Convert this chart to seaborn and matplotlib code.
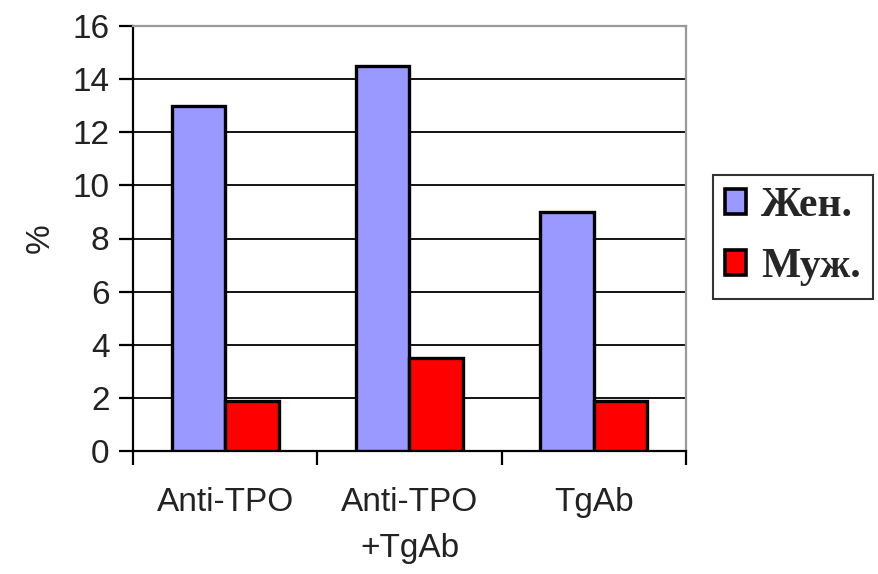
import matplotlib
matplotlib.use("Agg")
import matplotlib.pyplot as plt
from matplotlib.patches import Patch
from matplotlib.ticker import FixedLocator
import seaborn as sns
import pandas as pd

categories = ["Anti-TPO", "Anti-TPO\n+TgAb", "TgAb"]
women = [13.0, 14.5, 9.0]
men = [1.9, 3.5, 1.9]
series_names = ["Жен.", "Муж."]
y_ticks = [0, 2, 4, 6, 8, 10, 12, 14, 16]

df = pd.DataFrame({
    "cat": categories * 2,
    "val": women + men,
    "sex": [series_names[0]] * 3 + [series_names[1]] * 3,
})

sns.set_theme(style="white")
plt.rcParams["font.family"] = ["Liberation Sans", "DejaVu Sans"]

colors = {"Жен.": "#9999FF", "Муж.": "#FF0000"}

fig = plt.figure(figsize=(8.79, 5.74), dpi=100)
ax = fig.add_axes([133 / 879, 1 - 451 / 574, (686 - 133) / 879, (451 - 26) / 574])

sns.barplot(data=df, x="cat", y="val", hue="sex", order=categories,
            hue_order=series_names, palette=colors, width=0.58, gap=0,
            edgecolor="black", linewidth=2.4, saturation=1, ax=ax,
            legend=False, zorder=3)

ax.set_xlim(-0.5, 2.5)
ax.set_ylim(0, 16)
ax.set_yticks(y_ticks)
ax.yaxis.grid(True, color="black", linewidth=1.3, zorder=0)
ax.set_axisbelow(True)

for side in ["left", "bottom"]:
    ax.spines[side].set_color("black")
    ax.spines[side].set_linewidth(1.6)
for side in ["top", "right"]:
    ax.spines[side].set_visible(True)
    ax.spines[side].set_color("#999999")
    ax.spines[side].set_linewidth(1.6)

# category labels sit between boundary ticks
ax.set_xticks(range(len(categories)))
ax.set_xticklabels(categories, fontsize=24, color="#222222", linespacing=1.6)
ax.tick_params(axis="x", which="major", length=0, pad=26)
ax.xaxis.set_minor_locator(FixedLocator([-0.5, 0.5, 1.5, 2.5]))
ax.tick_params(axis="x", which="minor", length=10, width=1.6, color="black",
               direction="out", bottom=True)
ax.tick_params(axis="y", length=10, width=1.6, color="black", direction="out",
               left=True, labelsize=24, labelcolor="#222222", pad=7)

ax.set_xlabel("")
ax.set_ylabel("%", fontsize=24, color="#222222", labelpad=12)

handles = [Patch(facecolor=colors[n], edgecolor="black", linewidth=2.6, label=n)
           for n in series_names]
leg = fig.legend(handles=handles, loc="upper left",
                 bbox_to_anchor=(713 / 879, 1 - 175 / 574),
                 borderaxespad=0,
                 frameon=True, fancybox=False, handlelength=0.5,
                 handleheight=0.55, handletextpad=0.35, borderpad=0.3,
                 labelspacing=0.55,
                 prop={"family": ["Liberation Serif", "DejaVu Serif"],
                       "size": 30, "weight": "bold"})
leg.get_frame().set_edgecolor("black")
leg.get_frame().set_linewidth(1.5)

fig.savefig("out.png", dpi=100)
